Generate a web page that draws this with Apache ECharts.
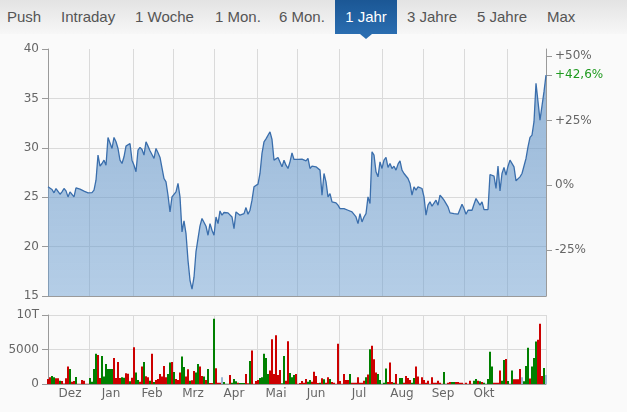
<!DOCTYPE html>
<html><head><meta charset="utf-8">
<script src="https://cdn.jsdelivr.net/npm/echarts@6/dist/echarts.min.js"></script>
<style>
html,body{margin:0;padding:0;background:#fafafa;width:627px;height:412px;overflow:hidden}
#chart{position:absolute;left:0;top:0;width:627px;height:412px}
#tabs{position:absolute;left:0;top:0;width:627px;height:34px;background:linear-gradient(#e3e3e3,#f7f7f7);font-family:"Liberation Sans",Arial,sans-serif;font-size:15px;color:#555;z-index:2}
.t{position:absolute;top:0;line-height:34px;white-space:nowrap}
.act{background:linear-gradient(#1b5795,#2a6db0);color:#fff;width:62px;text-align:center;height:34px}
.tri{position:absolute;left:360px;top:34px;width:0;height:0;border-left:6px solid transparent;border-right:6px solid transparent;border-top:5px solid #2a6db0;z-index:2}
</style></head><body>
<div id="chart"></div>
<div id="tabs">
<span class="t" style="left:7px">Push</span>
<span class="t" style="left:61px">Intraday</span>
<span class="t" style="left:135px">1 Woche</span>
<span class="t" style="left:215px">1 Mon.</span>
<span class="t" style="left:279px">6 Mon.</span>
<span class="t act" style="left:335px">1 Jahr</span>
<span class="t" style="left:407px">3 Jahre</span>
<span class="t" style="left:477px">5 Jahre</span>
<span class="t" style="left:547px">Max</span>
</div>
<div class="tri"></div>
<script>
const prices = [
26.05,25.95,25.78,25.44,25.88,25.95,25.30,25.54,25.88,25.64,
25.03,25.54,25.71,25.03,25.95,25.88,25.81,25.71,25.61,25.44,
25.44,25.44,25.47,25.71,26.72,29.26,28.14,28.41,28.75,28.24,
31.05,31.05,29.93,31.05,30.61,29.93,28.75,28.41,29.09,30.17,
30.04,30.44,28.75,28.24,27.57,29.76,30.04,29.83,29.26,30.61,
30.17,29.70,29.83,28.92,29.93,29.49,29.02,28.92,26.89,26.55,
25.20,23.51,25.03,24.86,25.54,26.39,25.03,21.49,22.60,21.32,
18.61,16.59,15.70,16.90,19.50,20.80,22.10,22.84,22.67,22.06,
21.15,22.33,21.66,21.15,23.00,22.33,23.61,23.18,23.45,23.51,
23.41,23.34,23.00,21.82,23.51,23.48,23.18,23.00,23.34,23.95,
23.27,23.68,24.70,26.05,26.22,26.32,27.40,29.43,30.61,30.91,
31.05,31.62,30.84,28.75,28.92,29.02,28.92,28.07,28.75,28.24,
27.91,28.58,29.49,28.82,28.82,28.82,28.75,28.85,28.75,28.68,
28.92,27.91,28.14,28.01,28.07,28.07,27.74,25.20,27.40,26.55,
25.03,25.37,24.53,24.59,24.43,24.19,23.85,24.02,23.85,24.02,
23.68,23.75,23.51,23.61,23.00,22.33,23.34,22.50,23.00,23.34,
25.03,24.36,29.60,29.26,27.57,27.06,28.58,27.91,28.75,29.02,
28.01,28.41,27.91,28.14,27.74,28.34,28.68,27.74,27.40,27.23,
26.89,26.39,25.20,26.05,25.71,26.05,25.88,25.88,25.03,23.18,
24.19,24.53,24.09,24.29,24.70,24.19,25.20,24.97,24.70,24.86,
24.02,23.41,23.34,23.34,23.18,23.28,23.41,24.29,23.85,23.28,
23.68,23.51,23.68,24.29,24.86,25.03,24.19,24.53,23.75,23.68,
23.75,27.30,27.23,27.13,25.88,28.14,25.64,27.40,28.01,27.23,
28.14,28.75,28.82,28.07,26.66,26.66,27.06,27.40,27.57,28.92,
30.10,31.05,31.28,32.64,36.52,36.35,32.80,32.97,35.68,37.36
];
const volumes = [
730,970,1160,970,820,820,480,440,80,820,
2520,2180,340,440,1020,50,30,580,480,30,
30,870,340,2180,4370,4220,870,4070,1070,2910,
2180,2180,2180,3780,870,3200,870,970,920,1550,
1500,390,920,5340,1650,580,340,2520,3200,1120,
970,480,4370,290,580,730,1460,1070,2620,970,
1460,3100,3200,1750,730,580,1650,3980,2470,1070,
2130,480,530,1890,1650,2910,2520,1160,1070,580,
2180,150,150,9460,2280,190,190,970,290,50,
50,1310,190,730,390,190,150,150,150,1460,
100,3350,4850,50,440,580,870,970,4370,3780,
1460,1940,6500,1460,7080,1310,2040,100,4070,480,
6210,1600,970,1310,1460,50,150,440,190,730,
340,580,340,1790,1160,150,190,820,680,190,
970,730,290,190,50,5820,440,50,1460,580,
580,1460,190,190,190,970,190,190,480,970,
1360,5040,5530,3590,1650,1460,580,50,190,2230,
290,3100,290,190,1460,50,870,870,190,1160,
870,580,190,870,2520,1070,50,970,580,190,
480,50,970,190,190,480,190,50,1750,50,
190,290,290,290,290,290,190,190,50,190,
50,480,50,480,730,480,390,290,190,50,
730,4660,2520,190,190,190,1940,480,3490,3640,
440,50,1940,680,680,680,2180,970,390,2620,
5240,780,2520,3780,6160,6400,8730,1160,2330,1310
];
// U = up day, d = down day, n = unchanged
const directions = (
"ddUUddUddd" + "dUddUddddd" + "dUUUUddUUU" + "UUUddddUUd" + "dUddUUddUd" +
"dUdUdddddd" + "UUdUdddUUd" + "dUddUUddUd" + "UddUdddnUU" + "UdUUUdUUUd" +
"dUddddUUUU" + "UddddddUUd" + "dUUUdddddd" + "UUddddUdUd" + "dUdddddddd" +
"dUdddddddU" + "dUdddUUUUU" + "dddUddUUdd" + "ddUUdddddd" + "ddddddddUU" +
"ddUUdddddd" + "dddUUdUdUU" + "UUUddddUUd" + "UUUddddnUU" + "UdUUUdddUn").split("");
const basePrice = 26.2;
const pctTicks = [-25, 0, 25, 50];
const monthNames = ["Dez","Jan","Feb","Mrz","Apr","Mai","Jun","Jul","Aug","Sep","Okt"];
const monthMid = [11,31.5,52,72.5,93,114,134,155.5,177,197.5,218];
const monthStart = [20.5,42.5,62.5,83,104.5,124.5,145.5,167,187.5,208,229.5];
const priceTicks = [15,20,25,30,35,40];
const volTicks = [0,5000,10000];
const volTickLabels = ["0","5000","10T"];

const lastIdx = prices.length - 1;
const lastPrice = prices[lastIdx];
const dirColor = {U:"#008000", d:"#cc0000", n:"#9ab6d3"};
const FONT = "DejaVu Sans";
const labelStyle = {color:"#666", fontFamily:FONT, fontSize:12};
const gridColor = "#dadada";
const axisColor = "#9a9a9a";

const chart = echarts.init(document.getElementById("chart"), null, {renderer:"canvas"});
const pctValues = pctTicks.map(p => basePrice*(1+p/100)).concat([lastPrice]);
function nearestIdx(arr, v){let b=0;for(let i=1;i<arr.length;i++){if(Math.abs(arr[i]-v)<Math.abs(arr[b]-v))b=i;}return b;}

chart.setOption({
  animation:false,
  backgroundColor:"transparent",
  grid:[
    {left:48, top:49, width:498, height:247, outerBoundsMode:"none", containLabel:false},
    {left:48, top:315, width:498, height:69, outerBoundsMode:"none", containLabel:false}
  ],
  xAxis:[
    {type:"value", gridIndex:0, min:0, max:lastIdx,
     axisLine:{show:true, onZero:false, lineStyle:{color:axisColor}},
     axisTick:{show:false, customValues:monthStart},
     axisLabel:{show:false},
     splitLine:{show:true, lineStyle:{color:gridColor}}},
    {type:"value", gridIndex:1, min:0, max:lastIdx,
     axisLine:{show:true, onZero:false, lineStyle:{color:axisColor}},
     axisTick:{show:false, customValues:monthStart.concat([lastIdx])},
     axisLabel:Object.assign({show:true, margin:4, customValues:monthMid,
       formatter:v => monthNames[nearestIdx(monthMid, v)]}, labelStyle, {fontSize:12}),
     splitLine:{show:true, lineStyle:{color:gridColor}}}
  ],
  yAxis:[
    {type:"value", gridIndex:0, min:15, max:40, interval:5, position:"left",
     axisLine:{show:true, lineStyle:{color:axisColor}},
     axisTick:{show:true, length:6, lineStyle:{color:axisColor}},
     axisLabel:Object.assign({margin:9}, labelStyle),
     splitLine:{show:true, showMinLine:false, showMaxLine:false, lineStyle:{color:gridColor}}},
    {type:"value", gridIndex:0, min:15, max:40, position:"right",
     axisLine:{show:true, lineStyle:{color:axisColor}},
     axisTick:{show:true, length:6, customValues:pctValues, lineStyle:{color:axisColor}},
     axisLabel:Object.assign({margin:9, customValues:pctValues,
       formatter:v => {
         if (Math.abs(v-lastPrice) < 1e-6) {
           const p = (v/basePrice-1)*100;
           return "{g|+" + p.toFixed(1).replace(".", ",") + "%}";
         }
         const p = Math.round((v/basePrice-1)*100);
         return (p>0?"+":"") + p + "%";
       },
       rich:{g:{color:"#1f9a1f", fontFamily:FONT, fontSize:12}}}, labelStyle),
     splitLine:{show:false}},
    {type:"value", gridIndex:1, min:0, max:10000, interval:5000, position:"left",
     axisLine:{show:true, lineStyle:{color:axisColor}},
     axisTick:{show:true, length:6, lineStyle:{color:axisColor}},
     axisLabel:Object.assign({margin:9, formatter:v => volTickLabels[volTicks.indexOf(v)]}, labelStyle),
     splitLine:{show:true, showMinLine:false, lineStyle:{color:gridColor}}}
  ],
  series:[
    {type:"line", xAxisIndex:0, yAxisIndex:0, showSymbol:false, symbol:"none",
     data:prices.map((p,i)=>[i,p]),
     lineStyle:{color:"#3a6eac", width:1.3},
     areaStyle:{origin:"start", opacity:1, color:new echarts.graphic.LinearGradient(0,0,0,1,[
       {offset:0, color:"rgba(92,142,194,0.62)"},
       {offset:1, color:"rgba(110,160,210,0.50)"}])}},
    {type:"bar", xAxisIndex:1, yAxisIndex:2, barWidth:2, barGap:"0%",
     data:volumes.map((v,i)=>({value:[i,v], itemStyle:{color:dirColor[directions[i]]}}))}
  ]
});
</script>
</body></html>
